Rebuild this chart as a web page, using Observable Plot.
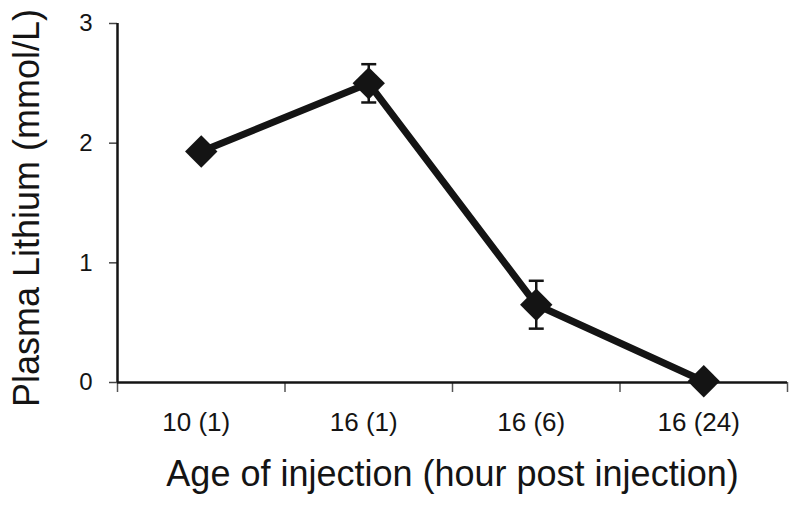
<!DOCTYPE html>
<html>
<head>
<meta charset="utf-8">
<script src="https://cdn.jsdelivr.net/npm/d3@7"></script>
<script src="https://cdn.jsdelivr.net/npm/@observablehq/plot@0.6"></script>
<style>
  html, body { margin: 0; padding: 0; background: #fff; }
  #chart { width: 800px; height: 510px; }
</style>
</head>
<body>
<div id="chart"></div>
<script>
// ---- data ----
const categories = ["10 (1)", "16 (1)", "16 (6)", "16 (24)"];
const lithium    = [1.93, 2.50, 0.65, 0.01];      // mmol/L
const errors     = [null, 0.16, 0.20, null];      // ± error bar half-lengths
const yTicks     = [0, 1, 2, 3];
const bandEdges  = [0, 1, 2, 3, 4];
const yLabel = "Plasma Lithium (mmol/L)";
const xLabel = "Age of injection (hour post injection)";

// table built from the arrays (category i sits in the middle of band i)
const rows = categories.map((c, i) => ({
  pos: i + 0.5, cat: c, value: lithium[i], err: errors[i]
}));
const errRows = rows.filter(d => d.err != null)
  .map(d => ({pos: d.pos, lo: d.value - d.err, hi: d.value + d.err}));
const caps = errRows.flatMap(d => [{pos: d.pos, v: d.lo}, {pos: d.pos, v: d.hi}]);

// symbols: rotated square (diamond) and a horizontal bar for error caps
const diamond = d3.symbolDiamond2 || {
  draw(ctx, size) {
    const r = Math.sqrt(size) * 0.62625;
    ctx.moveTo(0, -r); ctx.lineTo(r, 0); ctx.lineTo(0, r); ctx.lineTo(-r, 0); ctx.closePath();
  }
};
const capBar = {
  draw(ctx, size) {
    const r = Math.sqrt(size / Math.PI);
    ctx.moveTo(-r, 0); ctx.lineTo(r, 0);
  }
};

const ink = "#141414";
const font = "'Liberation Sans', Arial, Helvetica, sans-serif";

const chart = Plot.plot({
  width: 800,
  height: 510,
  marginLeft: 117,
  marginRight: 13,
  marginTop: 23,
  marginBottom: 128,
  style: {fontFamily: font, color: ink, background: "#fff", overflow: "visible"},
  x: {type: "linear", domain: [0, 4]},
  y: {domain: [0, 3]},
  marks: [
    // y tick marks
    Plot.axisY({ticks: yTicks, tickSize: 8, tickFormat: () => "", label: null,
                stroke: "#444", strokeWidth: 1.5}),
    // x band boundary ticks
    Plot.axisX({ticks: bandEdges, tickSize: 10, tickFormat: () => "", label: null,
                stroke: "#555", strokeWidth: 1.5}),
    // y tick labels
    Plot.text(yTicks, {y: d => d, text: d => String(d), frameAnchor: "left", dx: -25,
                       textAnchor: "end", lineAnchor: "middle", fontSize: 24, fill: ink}),
    // x category labels
    Plot.text(rows, {x: "pos", text: "cat", frameAnchor: "bottom", dy: 30, dx: -5,
                     textAnchor: "middle", lineAnchor: "top", fontSize: 26, fill: ink}),
    // axis lines
    Plot.ruleX([0], {stroke: ink, strokeWidth: 2.5}),
    Plot.ruleY([0], {stroke: ink, strokeWidth: 2.5}),
    // error bars
    Plot.ruleX(errRows, {x: "pos", y1: "lo", y2: "hi", stroke: ink, strokeWidth: 2.5}),
    Plot.dot(caps, {x: "pos", y: "v", symbol: capBar, r: 7.5, stroke: ink, strokeWidth: 2.5, fill: "none"}),
    // data line
    Plot.line(rows, {x: "pos", y: "value", stroke: ink, strokeWidth: 7, strokeLinejoin: "round"}),
    // diamonds
    Plot.dot(rows, {x: "pos", y: "value", symbol: diamond, r: 14.6, fill: ink, stroke: "none"}),
    // axis titles
    Plot.text([xLabel], {frameAnchor: "bottom", dy: 92, fontSize: 36, fill: ink,
                         textAnchor: "middle", lineAnchor: "middle"}),
    Plot.text([yLabel], {frameAnchor: "left", dx: -90, dy: 5, rotate: -90, fontSize: 36, fill: ink,
                         textAnchor: "middle", lineAnchor: "middle"})
  ]
});
document.getElementById("chart").appendChild(chart);
</script>
</body>
</html>
